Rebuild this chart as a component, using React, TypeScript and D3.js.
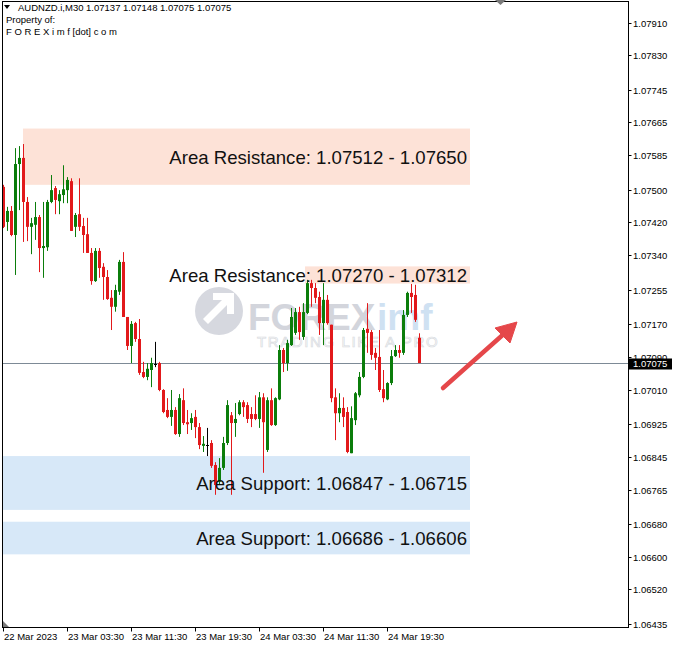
import * as d3 from "d3";

const W = 673;
const H = 647;

const SYMBOL = "AUDNZD.i,M30";
const OWNER = ["Property of:", "F O R E X i m f [dot] c o m"];

// 30-minute bars, oldest first: [open, high, low, close]
const BARS: [number, number, number, number][] = [
  [1.07507, 1.07512, 1.07406, 1.07409],
  [1.07421, 1.07458, 1.07399, 1.07448],
  [1.07448, 1.0746, 1.07386, 1.07389],
  [1.07389, 1.07602, 1.07291, 1.07563],
  [1.07563, 1.07607, 1.0745, 1.07578],
  [1.07578, 1.07612, 1.07372, 1.0747],
  [1.0747, 1.07482, 1.07374, 1.07409],
  [1.07409, 1.07431, 1.07342, 1.07418],
  [1.07414, 1.0747, 1.07377, 1.07433],
  [1.07433, 1.07438, 1.07298, 1.07357],
  [1.07357, 1.0747, 1.07284, 1.07362],
  [1.07359, 1.07475, 1.0735, 1.0747],
  [1.0747, 1.07536, 1.07467, 1.07499],
  [1.07504, 1.07509, 1.0744, 1.07475],
  [1.07472, 1.07499, 1.0744, 1.07489],
  [1.07487, 1.0756, 1.07467, 1.07501],
  [1.07499, 1.07531, 1.07467, 1.07524],
  [1.07521, 1.07528, 1.07399, 1.07399],
  [1.07409, 1.07443, 1.07384, 1.07438],
  [1.0744, 1.07528, 1.07399, 1.07409],
  [1.07411, 1.07431, 1.07345, 1.07389],
  [1.07391, 1.07431, 1.07345, 1.07345],
  [1.07345, 1.07357, 1.07267, 1.07276],
  [1.07276, 1.07357, 1.07274, 1.0735],
  [1.0735, 1.07357, 1.07284, 1.07308],
  [1.07311, 1.0732, 1.0723, 1.07286],
  [1.07286, 1.07303, 1.0723, 1.07232],
  [1.07235, 1.07254, 1.07156, 1.07213],
  [1.07213, 1.07267, 1.07201, 1.07254],
  [1.0725, 1.07328, 1.07242, 1.07323],
  [1.07323, 1.07347, 1.07188, 1.07188],
  [1.07188, 1.07188, 1.07107, 1.07117],
  [1.07117, 1.07178, 1.07075, 1.07171],
  [1.07173, 1.07176, 1.07127, 1.07134],
  [1.07134, 1.07183, 1.07046, 1.07051],
  [1.07053, 1.07078, 1.07038, 1.07041],
  [1.07041, 1.07075, 1.07033, 1.07061],
  [1.07058, 1.07088, 1.07016, 1.07075],
  [1.07073, 1.07127, 1.07065, 1.07073],
  [1.07075, 1.07078, 1.07006, 1.07009],
  [1.07009, 1.07011, 1.06952, 1.06955],
  [1.0696, 1.06989, 1.0694, 1.06943],
  [1.06943, 1.07009, 1.06921, 1.0696],
  [1.0696, 1.06967, 1.06899, 1.06901],
  [1.06901, 1.06999, 1.06894, 1.06989],
  [1.06984, 1.07013, 1.06923, 1.06928],
  [1.0693, 1.0696, 1.06901, 1.06925],
  [1.06928, 1.06952, 1.06911, 1.0694],
  [1.06943, 1.0696, 1.06891, 1.06918],
  [1.06918, 1.06928, 1.06864, 1.06874],
  [1.06872, 1.06896, 1.06857, 1.06877],
  [1.06874, 1.06916, 1.06847, 1.06874],
  [1.06879, 1.06886, 1.06818, 1.06823],
  [1.06825, 1.06832, 1.06752, 1.06776],
  [1.06784, 1.06842, 1.06776, 1.06818],
  [1.06818, 1.06894, 1.06813, 1.06879],
  [1.06879, 1.06984, 1.06874, 1.06972],
  [1.06947, 1.06955, 1.06752, 1.06928],
  [1.06928, 1.06977, 1.06894, 1.06938],
  [1.0695, 1.06984, 1.06947, 1.06979],
  [1.06979, 1.06984, 1.06943, 1.06967],
  [1.06972, 1.06979, 1.06928, 1.06938],
  [1.0695, 1.06967, 1.06918, 1.06938],
  [1.0695, 1.06996, 1.06935, 1.06938],
  [1.06938, 1.07004, 1.06916, 1.06991],
  [1.06991, 1.07001, 1.06806, 1.0693],
  [1.06862, 1.06991, 1.06857, 1.06984],
  [1.06984, 1.07013, 1.06921, 1.06923],
  [1.06923, 1.06991, 1.06921, 1.06989],
  [1.06986, 1.07119, 1.06984, 1.07107],
  [1.07107, 1.07112, 1.07053, 1.07075],
  [1.07075, 1.07132, 1.07056, 1.07124],
  [1.07119, 1.0721, 1.07117, 1.07188],
  [1.07149, 1.0721, 1.07144, 1.072],
  [1.072, 1.07213, 1.07132, 1.07151],
  [1.07139, 1.07222, 1.07132, 1.072],
  [1.07198, 1.07279, 1.07195, 1.07271],
  [1.07271, 1.07279, 1.07213, 1.07259],
  [1.07259, 1.07271, 1.07222, 1.07235],
  [1.07237, 1.0725, 1.07144, 1.07173],
  [1.07173, 1.07271, 1.07119, 1.0723],
  [1.0723, 1.07242, 1.07169, 1.07173],
  [1.07169, 1.07169, 1.06979, 1.06989],
  [1.06991, 1.07013, 1.06886, 1.06952],
  [1.06952, 1.07001, 1.0693, 1.06965],
  [1.06965, 1.06991, 1.06918, 1.06943],
  [1.06955, 1.06967, 1.06854, 1.06857],
  [1.06854, 1.06969, 1.06854, 1.0694],
  [1.06935, 1.07004, 1.06923, 1.07001],
  [1.06996, 1.07053, 1.06991, 1.07041],
  [1.07041, 1.07161, 1.07038, 1.07156],
  [1.07159, 1.07222, 1.071, 1.07149],
  [1.07151, 1.07156, 1.07083, 1.07095],
  [1.071, 1.07112, 1.07058, 1.07088],
  [1.0709, 1.07156, 1.07004, 1.07009],
  [1.07011, 1.07058, 1.06979, 1.06989],
  [1.06986, 1.07028, 1.06984, 1.07026],
  [1.07026, 1.07107, 1.07021, 1.07092],
  [1.07092, 1.07119, 1.0709, 1.07107],
  [1.07107, 1.07119, 1.07088, 1.071],
  [1.071, 1.07205, 1.07095, 1.07193],
  [1.07193, 1.0725, 1.07188, 1.07247],
  [1.07247, 1.07269, 1.07198, 1.07237],
  [1.07242, 1.07267, 1.07176, 1.07181],
  [1.07137, 1.07148, 1.07075, 1.07075],
];

const PRICE_TICKS = [
  1.0791, 1.0783, 1.07745, 1.07665, 1.07585, 1.075, 1.0742, 1.0734, 1.07255, 1.0717,
  1.0709, 1.0701, 1.06925, 1.06845, 1.06765, 1.0668, 1.066, 1.0652, 1.06435,
];

const TIME_TICK_BARS = [0, 16, 32, 48, 64, 80, 96];
const TIME_LABELS = [
  "22 Mar 2023", "23 Mar 03:30", "23 Mar 11:30", "23 Mar 19:30",
  "24 Mar 03:30", "24 Mar 11:30", "24 Mar 19:30",
];

// zones: label values in the order shown, bar index span
const ZONE_KIND = ["Resistance", "Resistance", "Support", "Support"];
const ZONE_FIRST = [1.07512, 1.0727, 1.06847, 1.06686];
const ZONE_SECOND = [1.0765, 1.07312, 1.06715, 1.06606];
const ZONE_FROM = [5, 75.5, -1, -1];
const ZONE_TO = [116.75, 116.75, 116.75, 116.75];

const BULL = "#0b7d0b";
const BEAR = "#e2191b";

export default function App() {
  const left = 2.5, right = 628.5, top = 1.5, bottom = 627.5;

  const x = d3.scaleLinear().domain([0, 156]).range([3, 627]);
  const y = d3.scaleLinear().domain([1.06435, 1.0791]).range([624.1, 22.5]);

  const last = BARS[BARS.length - 1];
  const lastY = Math.round(y(last[3])) + 0.5;
  const fmt = (v: number) => v.toFixed(5);
  const font = "'Liberation Sans', Arial, sans-serif";

  return (
    <svg
      width={W}
      height={H}
      style={{ position: "absolute", left: 0, top: 0, background: "#fff" }}
      fontFamily={font}
    >
      <rect width={W} height={H} fill="#fff" />
      <defs>
        <clipPath id="plot">
          <rect x={left} y={top} width={right - left} height={bottom - top} />
        </clipPath>
      </defs>

      {/* zones */}
      <g clipPath="url(#plot)">
        {ZONE_KIND.map((k, i) => {
          const hi = Math.max(ZONE_FIRST[i], ZONE_SECOND[i]);
          const lo = Math.min(ZONE_FIRST[i], ZONE_SECOND[i]);
          return (
            <rect
              key={i}
              x={x(ZONE_FROM[i])}
              y={y(hi)}
              width={x(ZONE_TO[i]) - x(ZONE_FROM[i])}
              height={y(lo) - y(hi)}
              fill={k === "Resistance" ? "#fde2d7" : "#d7e8f8"}
            />
          );
        })}
      </g>

      {/* watermark */}
      <g>
        <circle cx={219} cy={311} r={24} fill="#d6d8df" />
        <path d="M203,319 L222,300 L213,300 L213,293 L234,293 L234,314 L227,314 L227,305 L208,324 Z" fill="#fff" />
        <text x={248} y={330} fontSize={37} fontWeight="bold" fill="#d3d5dc">FOREX</text>
        <text x={377} y={330} fontSize={37} fontWeight="bold" fill="#cfe1f2">imf</text>
        <text x={257} y={347} fontSize={15} letterSpacing={1.6} fill="none" stroke="#d8dbe0" strokeWidth={0.7}>
          TRADING LIKE A PRO
        </text>
      </g>

      {/* last price line */}
      <line x1={left} x2={right} y1={lastY} y2={lastY} stroke="#7d8a96" strokeWidth={1} />

      {/* candles */}
      <g clipPath="url(#plot)">
        {BARS.map(([o, h, l, c], i) => {
          const cx = Math.round(x(i));
          const doji = o === c;
          const color = doji ? "#000" : c > o ? BULL : BEAR;
          const yTop = y(Math.max(o, c));
          const yBot = y(Math.min(o, c));
          return (
            <g key={i}>
              <line x1={cx + 0.5} x2={cx + 0.5} y1={y(h)} y2={y(l)} stroke={color} strokeWidth={1} />
              {doji ? (
                <line x1={cx - 1} x2={cx + 2} y1={Math.round(yTop) + 0.5} y2={Math.round(yTop) + 0.5} stroke={color} />
              ) : (
                <rect x={cx - 1} y={yTop} width={3} height={Math.max(1, yBot - yTop)} fill={color} />
              )}
            </g>
          );
        })}
      </g>

      {/* zone labels */}
      {ZONE_KIND.map((k, i) => {
        const hi = Math.max(ZONE_FIRST[i], ZONE_SECOND[i]);
        const lo = Math.min(ZONE_FIRST[i], ZONE_SECOND[i]);
        return (
          <text
            key={i}
            x={x(ZONE_TO[i]) - 3}
            y={(y(hi) + y(lo)) / 2 + 7}
            textAnchor="end"
            fontSize={18.6}
            fill="#111"
          >
            {`Area ${k}: ${fmt(ZONE_FIRST[i])} - ${fmt(ZONE_SECOND[i])}`}
          </text>
        );
      })}

      {/* arrow */}
      <g fill="#e5474a" stroke="#e5474a">
        <line x1={443} y1={388} x2={506} y2={332} strokeWidth={4.5} strokeLinecap="round" />
        <path d="M517,322 L495,328 L510,343 Z" strokeWidth={1} strokeLinejoin="round" />
      </g>

      {/* frame */}
      <rect x={left} y={top} width={right - left} height={bottom - top} fill="none" stroke="#000" />
      <path d="M495,0 L506,0 L500.5,5 Z" fill="#7a7a7a" />
      <path d="M3,621 L3,627 L9,627 Z" fill="#7a7a7a" />

      {/* price axis */}
      <g fontSize={9.5} fill="#000">
        {PRICE_TICKS.map((p) => {
          const py = Math.round(y(p)) + 0.5;
          return (
            <g key={p}>
              <line x1={right} x2={right + 3} y1={py} y2={py} stroke="#000" />
              <text x={633} y={py + 3.5}>{fmt(p)}</text>
            </g>
          );
        })}
        <rect x={629} y={lastY - 5} width={43} height={11} fill="#000" />
        <text x={633} y={lastY + 3.5} fill="#fff">{fmt(last[3])}</text>
      </g>

      {/* time axis */}
      <g fontSize={9.5} fill="#000">
        {TIME_TICK_BARS.map((b, i) => {
          const tx = Math.round(x(b)) + 0.5;
          return (
            <g key={b}>
              <line x1={tx} x2={tx} y1={bottom} y2={bottom + 4} stroke="#000" />
              <text x={tx + 0.5} y={640}>{TIME_LABELS[i]}</text>
            </g>
          );
        })}
      </g>

      {/* header */}
      <g fontSize={9.5} fill="#000">
        <path d="M4,5 L10,5 L7,9 Z" fill="#000" />
        <text x={18} y={11}>{`${SYMBOL}  ${last.map(fmt).join(" ")}`}</text>
        <text x={6} y={23}>{OWNER[0]}</text>
        <text x={6} y={35}>{OWNER[1]}</text>
      </g>
    </svg>
  );
}
